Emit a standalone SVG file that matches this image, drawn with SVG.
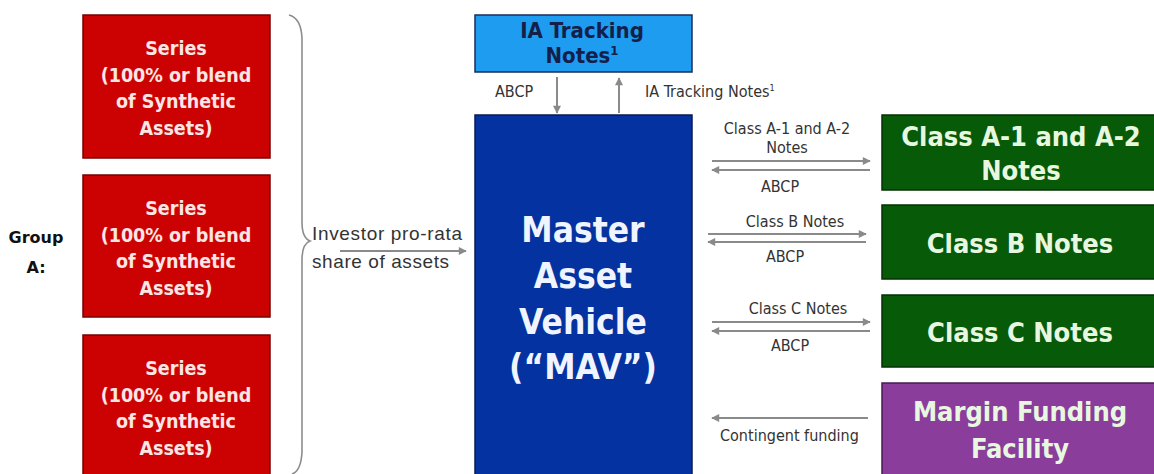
<svg xmlns="http://www.w3.org/2000/svg" width="1154" height="474" viewBox="0 0 1154 474">
<defs>
<marker id="ah" viewBox="0 0 10 10" refX="9" refY="5" markerWidth="9" markerHeight="8" markerUnits="userSpaceOnUse" orient="auto"><path d="M0,0 L10,5 L0,10 z" fill="#8a8a8a"/></marker>
</defs>
<style>
.red{fill:#cc0202;stroke:#7a0000;stroke-width:1.5}
.redt{font-family:"DejaVu Sans Condensed","DejaVu Sans",sans-serif;font-weight:bold;font-size:19.5px;fill:#fbe6e6;text-anchor:middle}
.green{fill:#075a07;stroke:#053005;stroke-width:1.5}
.purple{fill:#8b3d9b;stroke:#4a1a55;stroke-width:1.5}
.bigt{font-family:"DejaVu Sans Condensed","DejaVu Sans",sans-serif;font-weight:bold;font-size:27px;fill:#e8f8e0;text-anchor:middle}
.lbl{font-family:"DejaVu Sans Condensed","DejaVu Sans",sans-serif;font-size:16px;fill:#333;}
.c{text-anchor:middle}
.ln{stroke:#8a8a8a;stroke-width:2;fill:none;marker-end:url(#ah)}
</style>
<rect width="1154" height="474" fill="#ffffff"/>

<g id="group-a-label"><text x="36" y="243" font-family="DejaVu Sans,sans-serif" font-weight="bold" font-size="16" fill="#111" text-anchor="middle">Group</text><text x="36" y="273" font-family="DejaVu Sans,sans-serif" font-weight="bold" font-size="16" fill="#111" text-anchor="middle">A:</text></g>

<g id="series1"><rect class="red" x="83" y="15" width="187" height="143"/>
<text class="redt" x="176" y="55">Series</text><text class="redt" x="176" y="82">(100% or blend</text><text class="redt" x="176" y="108">of Synthetic</text><text class="redt" x="176" y="135">Assets)</text></g>
<g id="series2"><rect class="red" x="83" y="175" width="187" height="142"/>
<text class="redt" x="176" y="215">Series</text><text class="redt" x="176" y="242">(100% or blend</text><text class="redt" x="176" y="268">of Synthetic</text><text class="redt" x="176" y="295">Assets)</text></g>
<g id="series3"><rect class="red" x="83" y="335" width="187" height="145"/>
<text class="redt" x="176" y="375">Series</text><text class="redt" x="176" y="402">(100% or blend</text><text class="redt" x="176" y="428">of Synthetic</text><text class="redt" x="176" y="455">Assets)</text></g>

<g id="brace"><path d="M289,15 Q301,18 302,38 L302,222 Q302,238 310,241 Q302,244 302,260 L302,452 Q301,471 292,474" fill="none" stroke="#8c8c8c" stroke-width="1.6"/></g>

<g id="ia-tracking"><rect x="475" y="15" width="217" height="57" fill="#1d9cf0" stroke="#1a2e5a" stroke-width="1.5"/>
<text x="582" y="38" font-family="DejaVu Sans Condensed,DejaVu Sans,sans-serif" font-weight="bold" font-size="22" fill="#14204a" text-anchor="middle">IA Tracking</text>
<text x="582" y="63" font-family="DejaVu Sans Condensed,DejaVu Sans,sans-serif" font-weight="bold" font-size="22" fill="#14204a" text-anchor="middle">Notes<tspan font-size="13" dy="-8">1</tspan></text></g>

<g id="mav"><rect x="475" y="115" width="217" height="365" fill="#0432a0" stroke="#0a1a50" stroke-width="1.5"/>
<g font-family="DejaVu Sans Condensed,DejaVu Sans,sans-serif" font-weight="bold" font-size="35" fill="#f0f4ff" text-anchor="middle">
<text x="583" y="242">Master</text><text x="583" y="288">Asset</text><text x="583" y="334">Vehicle</text><text x="583" y="379">(“MAV”)</text></g></g>

<g id="class-a"><rect class="green" x="882" y="115" width="280" height="75"/><text class="bigt" x="1021" y="146">Class A-1 and A-2</text><text class="bigt" x="1021" y="180">Notes</text></g>
<g id="class-b"><rect class="green" x="882" y="205" width="280" height="74"/><text class="bigt" x="1020" y="253">Class B Notes</text></g>
<g id="class-c"><rect class="green" x="882" y="295" width="280" height="72"/><text class="bigt" x="1020" y="342">Class C Notes</text></g>
<g id="margin"><rect class="purple" x="882" y="383" width="280" height="100"/><text class="bigt" x="1020" y="421">Margin Funding</text><text class="bigt" x="1020" y="458">Facility</text></g>

<g id="connectors">
<line class="ln" x1="340" y1="251" x2="466" y2="251"/>
<line class="ln" x1="557" y1="77" x2="557" y2="113"/>
<line class="ln" x1="619" y1="113" x2="619" y2="78"/>
<line class="ln" x1="712" y1="161" x2="870" y2="161"/>
<line class="ln" x1="870" y1="170" x2="712" y2="170"/>
<line class="ln" x1="708" y1="234" x2="866" y2="234"/>
<line class="ln" x1="866" y1="242" x2="708" y2="242"/>
<line class="ln" x1="712" y1="322" x2="870" y2="322"/>
<line class="ln" x1="870" y1="331" x2="712" y2="331"/>
<line class="ln" x1="868" y1="418" x2="712" y2="418"/>
</g>

<g id="labels">
<text x="312" y="240" font-family="Liberation Sans,Arial,sans-serif" font-size="19" fill="#333" textLength="150">Investor pro-rata</text>
<text x="312" y="268" font-family="Liberation Sans,Arial,sans-serif" font-size="19" fill="#333" textLength="137">share of assets</text>
<text class="lbl" x="495" y="97">ABCP</text>
<text class="lbl" x="645" y="97">IA Tracking Notes<tspan font-size="9" dy="-6">1</tspan></text>
<text class="lbl c" x="787" y="134">Class A-1 and A-2</text>
<text class="lbl c" x="787" y="153">Notes</text>
<text class="lbl c" x="780" y="192">ABCP</text>
<text class="lbl c" x="795" y="227">Class B Notes</text>
<text class="lbl c" x="785" y="262">ABCP</text>
<text class="lbl c" x="798" y="314">Class C Notes</text>
<text class="lbl c" x="790" y="351">ABCP</text>
<text class="lbl" x="720" y="441">Contingent funding</text>
</g>
</svg>
